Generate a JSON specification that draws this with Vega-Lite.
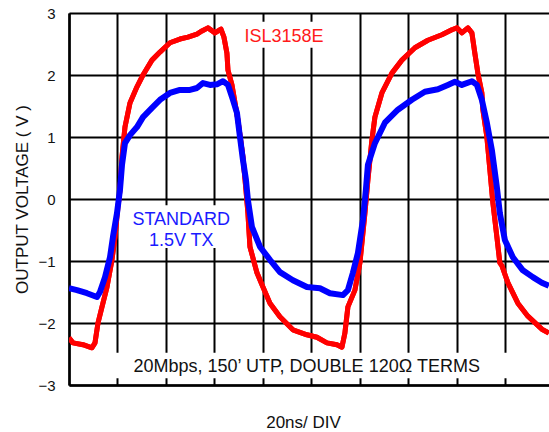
{
  "$schema": "https://vega.github.io/schema/vega-lite/v6.json",
  "width": 480,
  "height": 372,
  "autosize": {"type": "none"},
  "padding": {"left": 69, "top": 13, "right": 0, "bottom": 47},
  "background": "white",
  "config": {
    "view": {"stroke": null},
    "axis": {"gridColor": "#000", "gridWidth": 2, "gridOpacity": 1, "domainColor": "#000", "domainWidth": 2.5, "ticks": false}
  },
  "datasets": {
    "red": [
      {"t":0,"v":-2.24},{"t":1.65,"v":-2.32},{"t":5.77,"v":-2.35},{"t":9.48,"v":-2.40},{"t":10.72,"v":-2.32},
      {"t":11.96,"v":-2.0},{"t":13.61,"v":-1.74},{"t":15.67,"v":-1.42},{"t":17.73,"v":-0.98},{"t":18.97,"v":-0.61},
      {"t":20.21,"v":-0.13},{"t":21.03,"v":0.15},{"t":21.86,"v":0.68},{"t":23.09,"v":1.16},{"t":25.15,"v":1.55},
      {"t":28.04,"v":1.81},{"t":30.52,"v":2.0},{"t":34.23,"v":2.24},{"t":37.53,"v":2.37},{"t":41.65,"v":2.52},
      {"t":45.77,"v":2.58},{"t":49.07,"v":2.61},{"t":52.78,"v":2.66},{"t":54.85,"v":2.71},{"t":57.32,"v":2.76},
      {"t":60.21,"v":2.68},{"t":62.68,"v":2.74},{"t":63.92,"v":2.61},{"t":65.15,"v":2.35},{"t":65.57,"v":2.08},
      {"t":67.22,"v":1.84},{"t":69.69,"v":1.27},{"t":71.75,"v":0.68},{"t":72.99,"v":0.15},{"t":73.81,"v":-0.23},
      {"t":74.64,"v":-0.77},{"t":77.53,"v":-1.19},{"t":80.0,"v":-1.42},{"t":82.89,"v":-1.68},{"t":87.01,"v":-1.90},
      {"t":92.37,"v":-2.11},{"t":98.14,"v":-2.19},{"t":102.27,"v":-2.23},{"t":106.39,"v":-2.32},{"t":110.52,"v":-2.35},
      {"t":112.58,"v":-2.39},{"t":113.81,"v":-2.16},{"t":115.05,"v":-1.74},{"t":117.94,"v":-1.47},{"t":120.0,"v":-1.03},
      {"t":122.06,"v":-0.23},{"t":123.3,"v":0.31},{"t":124.95,"v":0.95},{"t":126.19,"v":1.32},{"t":129.07,"v":1.71},
      {"t":133.2,"v":2.03},{"t":137.32,"v":2.24},{"t":142.68,"v":2.44},{"t":148.04,"v":2.56},{"t":153.81,"v":2.65},
      {"t":157.94,"v":2.73},{"t":160.0,"v":2.76},{"t":162.06,"v":2.68},{"t":164.54,"v":2.76},{"t":166.19,"v":2.68},
      {"t":167.42,"v":2.35},{"t":168.66,"v":2.03},{"t":170.31,"v":1.71},{"t":170.72,"v":1.44},{"t":172.37,"v":1.0},
      {"t":173.61,"v":0.47},{"t":174.85,"v":-0.06},{"t":176.49,"v":-0.61},{"t":177.73,"v":-1.03},{"t":178.6,"v":-1.08},
      {"t":181.03,"v":-1.35},{"t":185.15,"v":-1.68},{"t":189.28,"v":-1.89},{"t":195.05,"v":-2.10},{"t":197.94,"v":-2.16}
    ],
    "blue": [
      {"t":0,"v":-1.44},{"t":3.3,"v":-1.47},{"t":7.42,"v":-1.52},{"t":11.55,"v":-1.58},{"t":12.78,"v":-1.50},
      {"t":14.85,"v":-1.26},{"t":16.91,"v":-0.94},{"t":18.14,"v":-0.61},{"t":19.79,"v":-0.23},{"t":21.03,"v":0.15},
      {"t":21.86,"v":0.55},{"t":23.09,"v":0.90},{"t":25.15,"v":1.03},{"t":28.04,"v":1.16},{"t":30.52,"v":1.32},
      {"t":34.23,"v":1.47},{"t":37.53,"v":1.60},{"t":41.65,"v":1.71},{"t":45.77,"v":1.76},{"t":49.9,"v":1.76},
      {"t":52.78,"v":1.79},{"t":55.26,"v":1.87},{"t":58.14,"v":1.84},{"t":61.03,"v":1.85},{"t":63.5,"v":1.90},
      {"t":65.57,"v":1.84},{"t":67.63,"v":1.60},{"t":69.28,"v":1.39},{"t":70.52,"v":1.0},{"t":71.75,"v":0.63},
      {"t":72.99,"v":0.31},{"t":73.81,"v":-0.02},{"t":75.46,"v":-0.45},{"t":78.76,"v":-0.77},{"t":82.89,"v":-0.98},
      {"t":87.01,"v":-1.18},{"t":92.37,"v":-1.31},{"t":98.14,"v":-1.42},{"t":103.51,"v":-1.44},{"t":107.63,"v":-1.52},
      {"t":112.99,"v":-1.55},{"t":115.05,"v":-1.47},{"t":117.11,"v":-1.19},{"t":119.18,"v":-0.87},{"t":121.24,"v":-0.34},
      {"t":122.47,"v":0.15},{"t":123.3,"v":0.55},{"t":126.19,"v":0.90},{"t":130.31,"v":1.23},{"t":135.67,"v":1.44},
      {"t":141.44,"v":1.60},{"t":146.8,"v":1.73},{"t":152.16,"v":1.77},{"t":156.29,"v":1.84},{"t":159.18,"v":1.89},
      {"t":162.06,"v":1.84},{"t":166.19,"v":1.90},{"t":168.25,"v":1.84},{"t":170.31,"v":1.60},{"t":172.37,"v":1.23},
      {"t":174.43,"v":0.79},{"t":176.49,"v":0.19},{"t":177.73,"v":-0.23},{"t":179.79,"v":-0.66},{"t":183.09,"v":-0.94},
      {"t":187.22,"v":-1.15},{"t":191.34,"v":-1.26},{"t":195.05,"v":-1.35},{"t":197.94,"v":-1.40}
    ],
    "one": [{"k": 1}]
  },
  "layer": [
    {
      "data": {"name": "red"},
      "mark": {"type": "line", "color": "#ff0000", "strokeWidth": 5, "strokeJoin": "round", "clip": true},
      "encoding": {
        "x": {"field": "t", "type": "quantitative",
              "scale": {"domain": [0, 198], "nice": false, "zero": false},
              "axis": {"values": [0,20,40,60,80,100,120,140,160,180], "grid": true, "labels": false,
                       "title": "20ns/ DIV", "titleFont": "Liberation Sans", "titleFontSize": 17, "titleFontWeight": "normal",
                       "titleColor": "#111", "titleX": 234, "titleY": 42, "titleBaseline": "alphabetic", "titleAlign": "center"}},
        "y": {"field": "v", "type": "quantitative",
              "scale": {"domain": [-3, 3], "nice": false, "zero": false},
              "axis": {"values": [-3,-2,-1,0,1,2,3], "format": "d", "grid": true, "labelPadding": 14, "labelFont": "Liberation Sans",
                       "labelFontSize": 15, "labelColor": "#111",
                       "title": "OUTPUT VOLTAGE ( V )", "titleFont": "Liberation Sans", "titleFontSize": 17, "titleFontWeight": "normal",
                       "titleColor": "#111", "titleX": -42, "titleY": 186, "titleAngle": 270, "titleBaseline": "alphabetic", "titleAlign": "center"}}
      }
    },
    {
      "data": {"name": "one"},
      "mark": {"type": "rect", "color": "white", "opacity": 1},
      "encoding": {"x": {"datum": 67.2}, "x2": {"datum": 110}, "y": {"datum": 2.86}, "y2": {"datum": 2.44}}
    },
    {
      "data": {"name": "one"},
      "mark": {"type": "rect", "color": "white", "opacity": 1},
      "encoding": {"x": {"datum": 20.8}, "x2": {"datum": 70.3}, "y": {"datum": -0.10}, "y2": {"datum": -0.79}}
    },
    {
      "data": {"name": "one"},
      "mark": {"type": "rect", "color": "white", "opacity": 1},
      "encoding": {"x": {"datum": 14.8}, "x2": {"datum": 182}, "y": {"datum": -2.48}, "y2": {"datum": -2.89}}
    },
    {
      "data": {"name": "red"},
      "mark": {"type": "line", "color": "#ff0000", "strokeWidth": 5, "strokeJoin": "round", "clip": true},
      "encoding": {"x": {"field": "t", "type": "quantitative"}, "y": {"field": "v", "type": "quantitative"}}
    },
    {
      "data": {"name": "blue"},
      "mark": {"type": "line", "color": "#0000ff", "strokeWidth": 6, "strokeJoin": "round", "clip": true},
      "encoding": {"x": {"field": "t", "type": "quantitative"}, "y": {"field": "v", "type": "quantitative"}}
    },
    {
      "data": {"name": "one"},
      "mark": {"type": "text", "text": "ISL3158E", "font": "Liberation Sans", "fontSize": 18, "color": "#ff1a1a", "align": "center", "baseline": "alphabetic"},
      "encoding": {"x": {"datum": 88.7}, "y": {"datum": 2.53}}
    },
    {
      "data": {"name": "one"},
      "mark": {"type": "text", "text": ["STANDARD", "1.5V TX"], "lineHeight": 21, "font": "Liberation Sans", "fontSize": 18, "color": "#1a1aff", "align": "center", "baseline": "alphabetic"},
      "encoding": {"x": {"datum": 46.3}, "y": {"datum": -0.42}}
    },
    {
      "data": {"name": "one"},
      "mark": {"type": "text", "text": "20Mbps, 150\u2019 UTP, DOUBLE 120\u03a9 TERMS", "font": "Liberation Sans", "fontSize": 18, "color": "#111", "align": "center", "baseline": "alphabetic"},
      "encoding": {"x": {"datum": 98.1}, "y": {"datum": -2.79}}
    }
  ]
}
